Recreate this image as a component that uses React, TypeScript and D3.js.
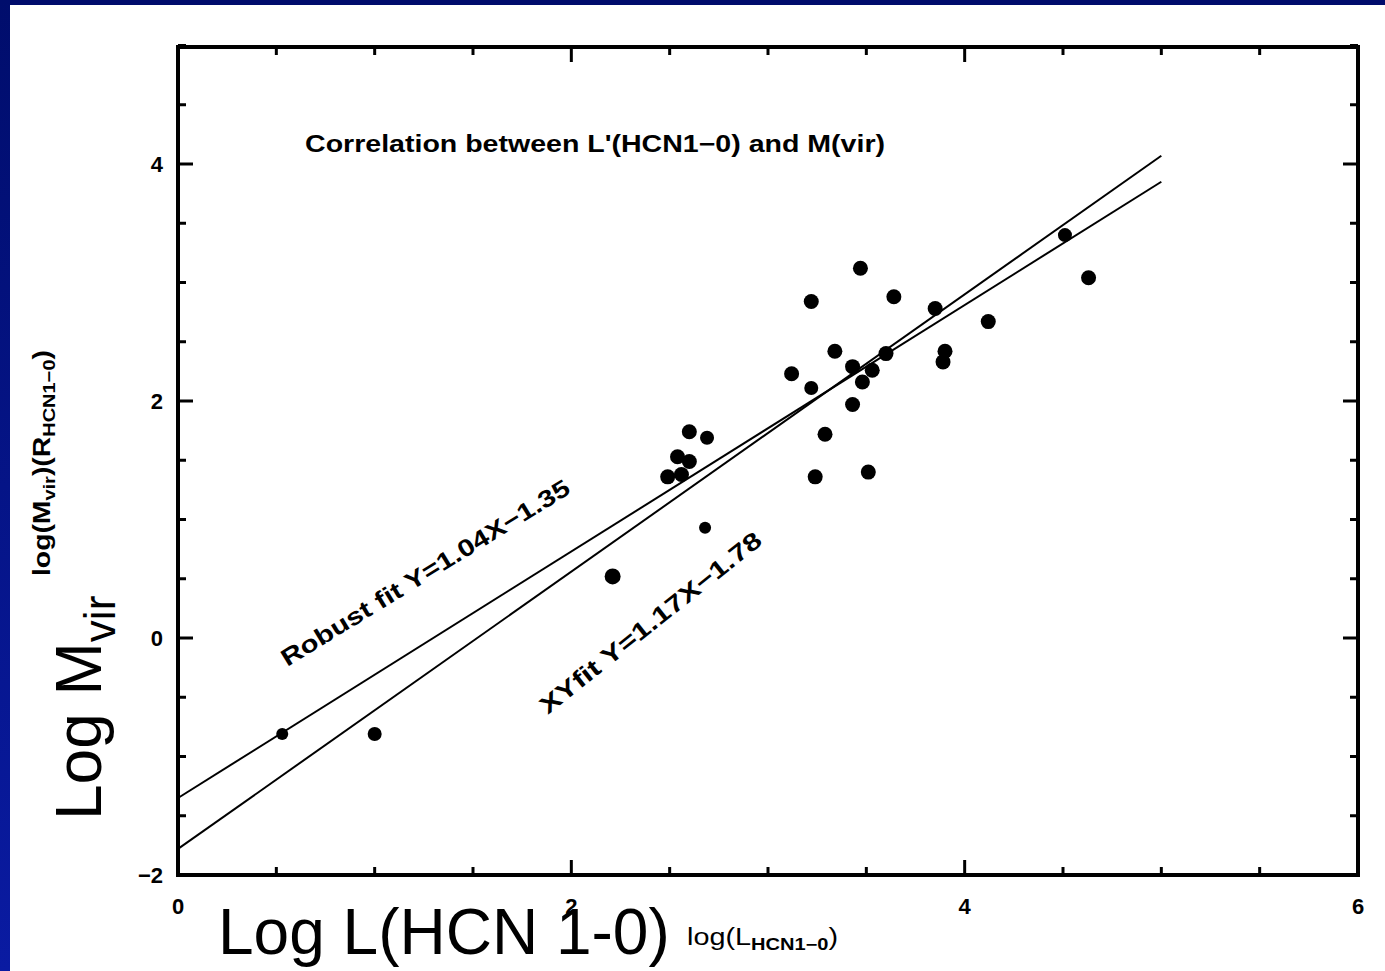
import React from "react";
import * as d3 from "d3";

// ---- data ----
const logL = [0.53, 1.0, 2.21, 2.68, 2.49, 2.56, 2.54, 2.6, 2.6, 2.69, 3.12, 3.22, 3.22, 3.24, 3.29, 3.34, 3.43, 3.43, 3.47, 3.48, 3.53, 3.51, 3.6, 3.64, 3.85, 3.89, 3.9, 4.12, 4.51, 4.63];
const logM = [-0.81, -0.81, 0.52, 0.93, 1.36, 1.38, 1.53, 1.49, 1.74, 1.69, 2.23, 2.11, 2.84, 1.36, 1.72, 2.42, 2.29, 1.97, 3.12, 2.16, 2.26, 1.4, 2.4, 2.88, 2.78, 2.33, 2.42, 2.67, 3.4, 3.04];
const pointSize = [6, 7, 8, 6, 7.5, 7.5, 7.5, 7.5, 7.5, 7, 7.5, 7, 7.5, 7.5, 7.5, 7.5, 7.5, 7.5, 7.5, 7.5, 7.5, 7.5, 7.5, 7.5, 7.5, 7.5, 7.5, 7.5, 7, 7.5];

const fitNames = ["Robust fit Y=1.04X\u22121.35", "XYfit Y=1.17X\u22121.78"];
const fitSlopes = [1.04, 1.17];
const fitIntercepts = [-1.35, -1.78];
const fitRange = [0, 5];

const xTickLabels = [0, 2, 4, 6];
const yTickLabels = [-2, 0, 2, 4];

const W = 1385;
const H = 971;

export default function App() {
  const x = d3.scaleLinear().domain([0, 6]).range([178, 1358]);
  const y = d3.scaleLinear().domain([-2, 5]).range([875, 45.5]);
  const x0 = x(0), x1 = x(6), yb = y(-2), yt = 47;

  const xTicks = d3.range(0, 6.01, 0.5);
  const yTicks = d3.range(-2, 5.01, 0.5);
  const isMajor = (v: number) => Math.abs(v / 2 - Math.round(v / 2)) < 1e-6;

  const fitPath = (i: number) =>
    d3.line<[number, number]>().x((d) => x(d[0])).y((d) => y(d[1]))(
      fitRange.map((v) => [v, fitSlopes[i] * v + fitIntercepts[i]] as [number, number])
    );

  const plotFont = "'Liberation Sans', Arial, sans-serif";

  // annotation anchors in data coords
  const robustAnchor = [0.555, -0.245];
  const xyAnchor = [1.88, -0.65];

  return (
    <svg width={W} height={H} style={{ position: "absolute", left: 0, top: 0, display: "block" }}>
      <defs>
        <linearGradient id="leftBar" x1="0" y1="0" x2="0" y2="1">
          <stop offset="0" stopColor="#000d6c" />
          <stop offset="1" stopColor="#0a1ba2" />
        </linearGradient>
      </defs>
      <rect x={0} y={0} width={W} height={H} fill="#ffffff" />
      <rect x={0} y={0} width={W} height={5} fill="#000c6c" />
      <rect x={0} y={0} width={10} height={H} fill="url(#leftBar)" />

      {/* ticks */}
      <g stroke="#000" strokeWidth={3}>
        {xTicks.map((v, i) => {
          const len = isMajor(v) ? 15 : 8;
          return (
            <g key={"xt" + i}>
              <line x1={x(v)} x2={x(v)} y1={yb} y2={yb - len} />
              <line x1={x(v)} x2={x(v)} y1={yt} y2={yt + len} />
            </g>
          );
        })}
        {yTicks.map((v, i) => {
          const len = isMajor(v) ? 15 : 8;
          return (
            <g key={"yt" + i}>
              <line x1={x0} x2={x0 + len} y1={y(v)} y2={y(v)} />
              <line x1={x1} x2={x1 - len} y1={y(v)} y2={y(v)} />
            </g>
          );
        })}
      </g>

      {/* frame */}
      <rect x={x0} y={yt} width={x1 - x0} height={yb - yt} fill="none" stroke="#000" strokeWidth={4} />

      {/* tick labels */}
      <g fontFamily={plotFont} fontWeight="bold" fontSize={22} fill="#000">
        {xTickLabels.map((v) => (
          <text key={"xl" + v} x={x(v)} y={914} textAnchor="middle">
            {v}
          </text>
        ))}
        {yTickLabels.map((v) => (
          <text key={"yl" + v} x={163} y={y(v) + 8} textAnchor="end">
            {v < 0 ? "\u2212" + Math.abs(v) : v}
          </text>
        ))}
      </g>

      {/* fit lines */}
      {fitNames.map((n, i) => (
        <path key={n} d={fitPath(i) || ""} fill="none" stroke="#000" strokeWidth={2} />
      ))}

      {/* points */}
      <g fill="#000">
        {logL.map((v, i) => (
          <circle key={"p" + i} cx={x(v)} cy={y(logM[i])} r={pointSize[i]} />
        ))}
      </g>

      {/* annotations */}
      <text x={x(0.646)} y={y(4.1)} fontFamily={plotFont} fontWeight="bold" fontSize={24} textLength={580} lengthAdjust="spacingAndGlyphs">
        Correlation between L'(HCN1−0) and M(vir)
      </text>
      <text
        transform={`translate(${x(robustAnchor[0])},${y(robustAnchor[1])}) rotate(-31.5)`}
        fontFamily={plotFont}
        fontWeight="bold"
        fontSize={24}
        textLength={334}
        lengthAdjust="spacingAndGlyphs"
      >
        {fitNames[0]}
      </text>
      <text
        transform={`translate(${x(xyAnchor[0])},${y(xyAnchor[1])}) rotate(-38.5)`}
        fontFamily={plotFont}
        fontWeight="bold"
        fontSize={24}
        textLength={276}
        lengthAdjust="spacingAndGlyphs"
      >
        {fitNames[1]}
      </text>

      {/* small original axis titles */}
      <text x={687} y={945} fontFamily={plotFont} fontSize={23} fill="#000" textLength={151} lengthAdjust="spacingAndGlyphs">
        log(L<tspan fontSize={16} dy={5} fontWeight="bold">HCN1−0</tspan>
        <tspan dy={-5}>)</tspan>
      </text>
      <text
        transform="translate(50,576) rotate(-90)"
        fontFamily={plotFont}
        fontSize={24}
        fill="#000"
        fontWeight="bold"
        textLength={226}
        lengthAdjust="spacingAndGlyphs"
      >
        log(M<tspan fontSize={17} dy={5}>vir</tspan>
        <tspan dy={-5}>)(R</tspan>
        <tspan fontSize={17} dy={5}>HCN1−0</tspan>
        <tspan dy={-5}>)</tspan>
      </text>

      {/* big slide labels */}
      <text x={218} y={954} fontFamily="'Liberation Sans', Arial, sans-serif" fontSize={64} fill="#000">
        Log L(HCN 1-0)
      </text>
      <text transform="translate(101,820) rotate(-90)" fontFamily="'Liberation Sans', Arial, sans-serif" fontSize={64} fill="#000">
        Log M<tspan fontSize={44} dy={14}>vir</tspan>
      </text>
    </svg>
  );
}
